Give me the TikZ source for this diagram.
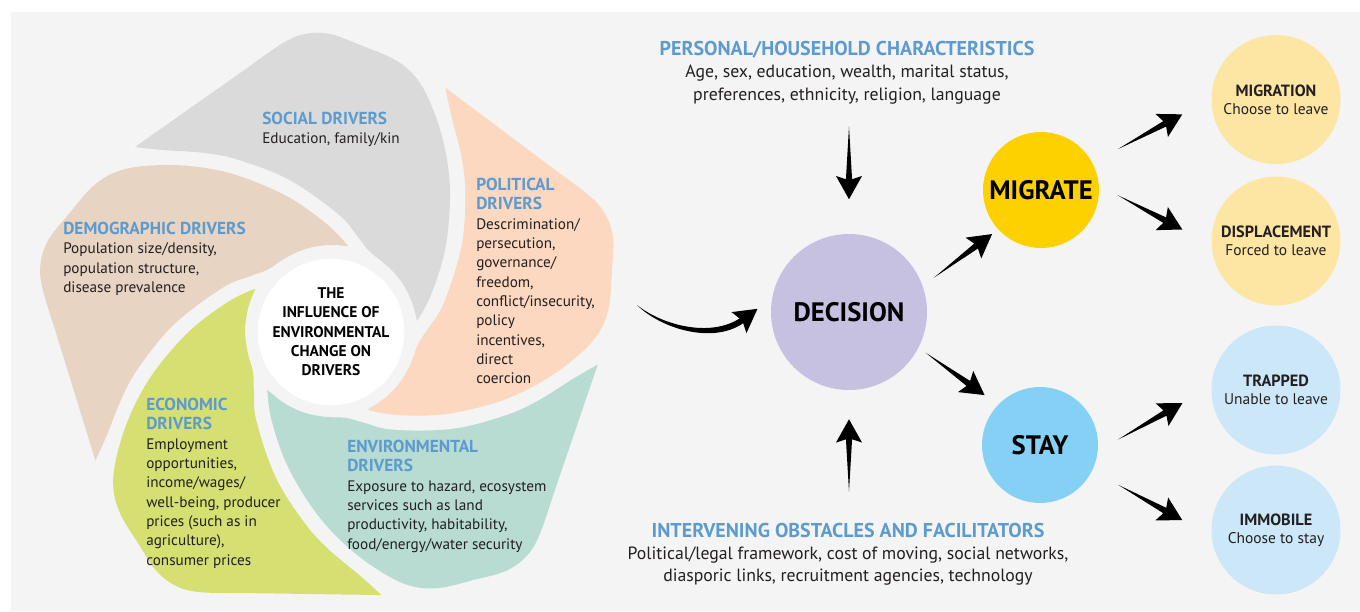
\documentclass[tikz,border=0pt]{standalone}
\usepackage{fontspec}
\setmainfont{PT Sans}
\usetikzlibrary{calc}

\definecolor{bgc}{HTML}{F4F4F4}
\definecolor{socc}{HTML}{DADADA}
\definecolor{democ}{HTML}{E7D4C2}
\definecolor{econc}{HTML}{D5DF72}
\definecolor{envc}{HTML}{B8DBD2}
\definecolor{polc}{HTML}{FBD8BF}
\definecolor{headc}{HTML}{5D9BCF}
\definecolor{decc}{HTML}{C6C0E1}
\definecolor{migc}{HTML}{FDD100}
\definecolor{stayc}{HTML}{85D0F5}
\definecolor{palyel}{HTML}{FDE6A4}
\definecolor{palblu}{HTML}{CCE8F8}
\definecolor{txtc}{HTML}{231F20}

\newcommand{\hd}[1]{\textcolor{headc}{\fontsize{13}{14.5}\selectfont\bfseries #1}}
\newcommand{\tl}[1]{\textcolor{headc}{\fontsize{15}{16.5}\selectfont\bfseries #1}}
% one petal of the pinwheel (social one), the others are rotated copies
\newcommand{\petalpath}{(135,147) -- (250,66)
  -- plot[smooth, tension=0.6] coordinates {(250,66) (283,43) (305,34) (330,34) (360,45) (397,61) (420,83) (437,120) (447,160) (450,200) (445,250) (431,295) (417,321)}
  -- plot[smooth, tension=0.6] coordinates {(417,321) (411.8,301.6) (401.4,281.7) (386.3,265.1) (370,252) (358,237) (338.5,214.4) (290.2,180.4) (241.2,160.7) (206,153.1) (162.7,150) (135,147)}
  -- cycle}
% tapered arrow: tail, tip
\newcommand{\flowarrow}[2]{%
  \coordinate (fa-t) at (#1);
  \coordinate (fa-h) at (#2);
  \fill[black] (fa-t) -- ($(fa-h)!15pt!(fa-t)!2.3pt!90:(fa-h)$)
    -- ($(fa-h)!17.5pt!(fa-t)!9.8pt!90:(fa-h)$) -- (fa-h)
    -- ($(fa-h)!17.5pt!(fa-t)!9.8pt!-90:(fa-h)$)
    -- ($(fa-h)!15pt!(fa-t)!2.3pt!-90:(fa-h)$) -- cycle;}

\begin{document}
\begin{tikzpicture}[x=0.75pt, y=-0.75pt,
    drv/.style={anchor=north west, align=left, inner sep=0pt, text=txtc, font=\fontsize{11.4}{14.5}\selectfont},
    info/.style={align=center, inner sep=0pt, text=txtc, font=\fontsize{13.3}{16.8}\selectfont},
    bigc/.style={circle, inner sep=0pt, text=black, font=\fontsize{20}{22}\selectfont\bfseries},
    outc/.style={circle, inner sep=0pt, minimum size=96.75pt, align=center, text=txtc, font=\fontsize{11.6}{13.5}\selectfont}]
\useasboundingbox (0,0) rectangle (1360,611);
\fill[bgc] (11,12) rectangle (1360,611);

% drivers
\foreach \ang/\col in {0/socc, 72/democ, 144/econc, 216/envc, 288/polc}
    \fill[\col, rotate around={\ang:(331,331)}] \petalpath;
\node[circle, fill=white, minimum size=102pt, inner sep=0pt, align=center, text=black, font=\fontsize{11.6}{14.5}\selectfont\bfseries] (core) at (331,332) {THE\\INFLUENCE OF\\ENVIRONMENTAL\\CHANGE ON\\DRIVERS};

\node[drv] (social) at (262,112) {\hd{SOCIAL DRIVERS}\\Education, family/kin};
\node[drv] (demographic) at (63,222) {\hd{DEMOGRAPHIC DRIVERS}\\Population size/density,\\population structure,\\disease prevalence};
\node[drv] (political) at (476,178) {\hd{POLITICAL}\\\hd{DRIVERS}\\Descrimination/\\persecution,\\governance/\\freedom,\\conflict/insecurity,\\policy\\incentives,\\direct\\coercion};
\node[drv] (economic) at (146,398) {\hd{ECONOMIC}\\\hd{DRIVERS}\\Employment\\opportunities,\\income/wages/\\well-being, producer\\prices (such as in\\agriculture),\\consumer prices};
\node[drv] (environmental) at (347,440) {\hd{ENVIRONMENTAL}\\\hd{DRIVERS}\\Exposure to hazard, ecosystem\\services such as land\\productivity, habitability,\\food/energy/water security};

% decision and outcomes
\node[bigc, fill=decc, minimum size=117pt] (decision) at (849,312) {DECISION};
\node[bigc, fill=migc, minimum size=87pt] (migrate) at (1041,190) {MIGRATE};
\node[bigc, fill=stayc, minimum size=87pt] (stay) at (1040,445) {STAY};
\node[outc, fill=palyel] (migration) at (1276,99.5) {{\bfseries\fontsize{12.2}{13}\selectfont MIGRATION}\\Choose to leave};
\node[outc, fill=palyel] (displacement) at (1276,241) {{\bfseries\fontsize{12.2}{13}\selectfont DISPLACEMENT}\\Forced to leave};
\node[outc, fill=palblu] (trapped) at (1276,390) {{\bfseries\fontsize{12.2}{13}\selectfont TRAPPED}\\Unable to leave};
\node[outc, fill=palblu] (immobile) at (1276,530) {{\bfseries\fontsize{12.2}{13}\selectfont IMMOBILE}\\Choose to stay};

\node[info, anchor=north] (personal) at (847,41) {\tl{PERSONAL/HOUSEHOLD CHARACTERISTICS}\\Age, sex, education, wealth, marital status,\\preferences, ethnicity, religion, language};
\node[info, anchor=north] (obstacles) at (848,522.5) {\tl{INTERVENING OBSTACLES AND FACILITATORS}\\Political/legal framework, cost of moving, social networks,\\diasporic links, recruitment agencies, technology};

% arrows
\flowarrow{$(personal.south -| decision)+(0,22)$}{$(decision.north)+(0,-34.5)$}
\flowarrow{$(obstacles.north -| decision)+(0,-31)$}{$(decision.south)+(0,29)$}
\flowarrow{$(decision)!1.17!(decision.22)$}{$(migrate)!1.13!(migrate.222)$}
\flowarrow{$(decision)!1.11!(decision.-28)$}{$(stay)!1.28!(stay.138)$}
\flowarrow{$(migrate)!1.5!(migrate.28)$}{$(migration)!1.465!(migration.189)$}
\flowarrow{$(migrate)!1.325!(migrate.-4)$}{$(displacement)!1.457!(displacement.173)$}
\flowarrow{$(stay)!1.343!(stay.4)$}{$(trapped)!1.46!(trapped.188)$}
\flowarrow{$(stay)!1.508!(stay.-27)$}{$(immobile)!1.455!(immobile.174)$}

\coordinate (drv-out) at (637,305);
\coordinate (dec-in) at ($(decision)!1.17!(decision.178)$);
\fill[black] (drv-out) .. controls +(25,20) and +(-29.8,19.4) .. ($(dec-in)+(-17.9,9.6)$)
    -- ($(dec-in)+(-26,3.3)$) -- (dec-in) -- ($(dec-in)+(-11,24.3)$) -- ($(dec-in)+(-14.3,14.4)$)
    .. controls +(-31.4,21.6) and +(23,23) .. (drv-out);
\end{tikzpicture}
\end{document}
